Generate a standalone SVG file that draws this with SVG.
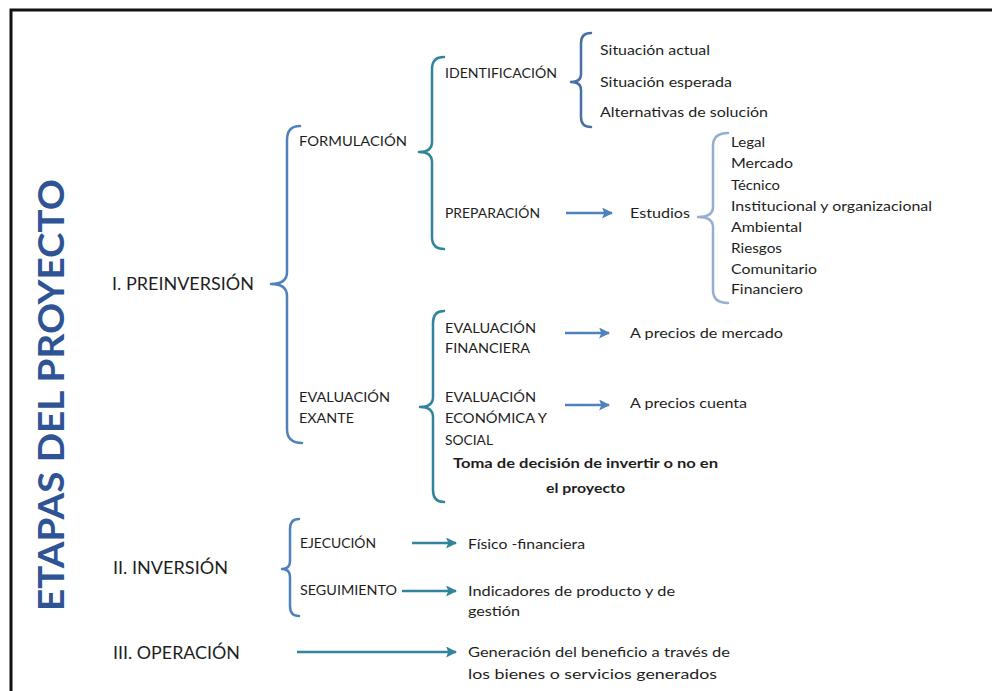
<svg xmlns="http://www.w3.org/2000/svg" width="992" height="691" viewBox="0 0 992 691">
<style>
text{font-family:Lato,"Noto Sans","Liberation Sans",sans-serif;fill:#1e1e1e;font-size:14px}
.main{font-size:17px}
.b{font-weight:bold}
.title{font-size:37px;font-weight:bold;fill:#2F5496}
.br{fill:none;stroke-width:2.5;stroke-linecap:round;stroke-linejoin:round}
.blue{stroke:#4F81BD}
.teal{stroke:#31849B}
.ar{fill:none;stroke-width:2.5}
</style>
<defs>
<marker id="hb" viewBox="0 0 10 10" refX="9" refY="5" markerWidth="4.4" markerHeight="4.4" orient="auto" markerUnits="strokeWidth"><path d="M0,0 L10,5 L0,10 L2,5 Z" fill="#4F81BD"/></marker>
<marker id="ht" viewBox="0 0 10 10" refX="9" refY="5" markerWidth="4.4" markerHeight="4.4" orient="auto" markerUnits="strokeWidth"><path d="M0,0 L10,5 L0,10 L2,5 Z" fill="#31849B"/></marker>
</defs>
<rect width="992" height="691" fill="#ffffff"/>
<path d="M11,691 L11,10 L992,10" fill="none" stroke="#111" stroke-width="3"/>
<g id="title"><text class="title" transform="translate(64,611) rotate(-90)" textLength="432" lengthAdjust="spacingAndGlyphs">ETAPAS DEL PROYECTO</text></g>
<g id="connectors">
<path id="brace-pre" class="br blue" d="M300,126 Q287,126 287,140 L287,272 Q287,284 271,284 Q287,284 287,296 L287,429 Q287,443 302,443"/>
<path id="brace-form" class="br teal" d="M444,57 Q432,57 432,69 L432,142 Q432,152 419,152 Q432,152 432,162 L432,237 Q432,249 444,249"/>
<path id="brace-ident" class="br" stroke="#4A6FA5" d="M591,33 Q581,33 581,43 L581,74 Q581,82 571,82 Q581,82 581,90 L581,117 Q581,127 591,127"/>
<path id="brace-est" class="br" stroke="#95AFCF" d="M728,133 Q713,133 713,146 L713,207 Q713,217 698,217 Q713,217 713,227 L713,290 Q713,303 728,303"/>
<path id="brace-eval" class="br teal" d="M444,311 Q433,311 433,323 L433,397 Q433,407 420,407 Q433,407 433,417 L433,490 Q433,502 444,502"/>
<path id="brace-inv" class="br blue" d="M299,519 Q290,519 290,529 L290,561 Q290,569 282,569 Q290,569 290,577 L290,606 Q290,616 299,616"/>
<line class="ar blue" x1="566" y1="213" x2="612" y2="213" marker-end="url(#hb)"/>
<line class="ar blue" x1="565" y1="333" x2="609" y2="333" marker-end="url(#hb)"/>
<line class="ar blue" x1="565" y1="405" x2="609" y2="405" marker-end="url(#hb)"/>
<line class="ar teal" x1="412" y1="543" x2="456" y2="543" marker-end="url(#ht)"/>
<line class="ar teal" x1="402" y1="591" x2="456" y2="591" marker-end="url(#ht)"/>
<line class="ar teal" x1="297" y1="652" x2="456" y2="652" marker-end="url(#ht)"/>
</g>
<g id="n-preinversion"><text class="main" x="112" y="290" textLength="142" lengthAdjust="spacingAndGlyphs">I. PREINVERSIÓN</text></g>
<g id="n-formulacion"><text x="299" y="146" textLength="108" lengthAdjust="spacingAndGlyphs">FORMULACIÓN</text></g>
<g id="n-identificacion"><text x="445" y="78" textLength="112" lengthAdjust="spacingAndGlyphs">IDENTIFICACIÓN</text></g>
<g id="n-sit-actual"><text x="600" y="55" textLength="110" lengthAdjust="spacingAndGlyphs">Situación actual</text></g>
<g id="n-sit-esperada"><text x="600" y="87" textLength="132" lengthAdjust="spacingAndGlyphs">Situación esperada</text></g>
<g id="n-alternativas"><text x="600" y="117" textLength="168" lengthAdjust="spacingAndGlyphs">Alternativas de solución</text></g>
<g id="n-preparacion"><text x="445" y="218" textLength="95" lengthAdjust="spacingAndGlyphs">PREPARACIÓN</text></g>
<g id="n-estudios"><text x="630" y="218" textLength="60" lengthAdjust="spacingAndGlyphs">Estudios</text></g>
<g id="n-lista-estudios">
<text x="731" y="147" textLength="34" lengthAdjust="spacingAndGlyphs">Legal</text>
<text x="731" y="168" textLength="62" lengthAdjust="spacingAndGlyphs">Mercado</text>
<text x="731" y="190" textLength="49" lengthAdjust="spacingAndGlyphs">Técnico</text>
<text x="731" y="211" textLength="201" lengthAdjust="spacingAndGlyphs">Institucional y organizacional</text>
<text x="731" y="232" textLength="71" lengthAdjust="spacingAndGlyphs">Ambiental</text>
<text x="731" y="253" textLength="51" lengthAdjust="spacingAndGlyphs">Riesgos</text>
<text x="731" y="274" textLength="86" lengthAdjust="spacingAndGlyphs">Comunitario</text>
<text x="731" y="294" textLength="72" lengthAdjust="spacingAndGlyphs">Financiero</text>
</g>
<g id="n-eval-exante"><text x="299" y="402" textLength="91" lengthAdjust="spacingAndGlyphs">EVALUACIÓN</text><text x="299" y="423" textLength="55" lengthAdjust="spacingAndGlyphs">EXANTE</text></g>
<g id="n-eval-fin"><text x="445" y="333" textLength="91" lengthAdjust="spacingAndGlyphs">EVALUACIÓN</text><text x="445" y="353" textLength="85" lengthAdjust="spacingAndGlyphs">FINANCIERA</text></g>
<g id="n-precios-mercado"><text x="630" y="338" textLength="153" lengthAdjust="spacingAndGlyphs">A precios de mercado</text></g>
<g id="n-eval-eco"><text x="445" y="402" textLength="91" lengthAdjust="spacingAndGlyphs">EVALUACIÓN</text><text x="445" y="423" textLength="102" lengthAdjust="spacingAndGlyphs">ECONÓMICA Y</text><text x="445" y="445" textLength="48" lengthAdjust="spacingAndGlyphs">SOCIAL</text></g>
<g id="n-precios-cuenta"><text x="630" y="408" textLength="117" lengthAdjust="spacingAndGlyphs">A precios cuenta</text></g>
<g id="n-decision"><text class="b" x="453" y="468" textLength="265" lengthAdjust="spacingAndGlyphs">Toma de decisión de invertir o no en</text><text class="b" x="546" y="493" textLength="79" lengthAdjust="spacingAndGlyphs">el proyecto</text></g>
<g id="n-inversion"><text class="main" x="113" y="574" textLength="115" lengthAdjust="spacingAndGlyphs">II. INVERSIÓN</text></g>
<g id="n-ejecucion"><text x="300" y="548" textLength="76" lengthAdjust="spacingAndGlyphs">EJECUCIÓN</text></g>
<g id="n-fisico"><text x="468" y="549" textLength="117" lengthAdjust="spacingAndGlyphs">Físico -financiera</text></g>
<g id="n-seguimiento"><text x="300" y="595" textLength="97" lengthAdjust="spacingAndGlyphs">SEGUIMIENTO</text></g>
<g id="n-indicadores"><text x="468" y="596" textLength="207" lengthAdjust="spacingAndGlyphs">Indicadores de producto y de</text><text x="468" y="616" textLength="52" lengthAdjust="spacingAndGlyphs">gestión</text></g>
<g id="n-operacion"><text class="main" x="113" y="659" textLength="127" lengthAdjust="spacingAndGlyphs">III. OPERACIÓN</text></g>
<g id="n-generacion"><text x="468" y="657" textLength="262" lengthAdjust="spacingAndGlyphs">Generación del beneficio a través de</text><text x="468" y="679" textLength="249" lengthAdjust="spacingAndGlyphs">los bienes o servicios generados</text></g>
</svg>
